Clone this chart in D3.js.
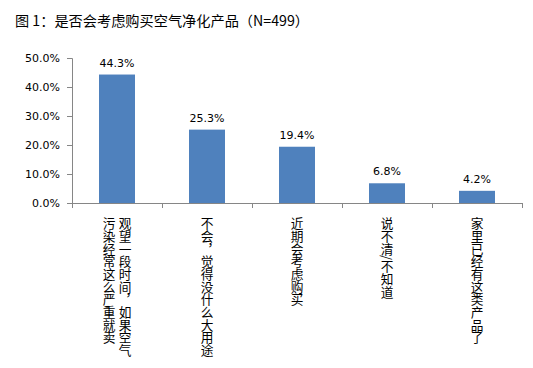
<!DOCTYPE html>
<html><head><meta charset="utf-8">
<script src="https://cdn.jsdelivr.net/npm/d3@7"></script>
<style>body{margin:0;background:#fff}</style>
</head><body>
<script>
const title = "图 1：是否会考虑购买空气净化产品（N=499）";
const categories = ["观望一段时间，如果空气污染经常这么严重就卖","不会，觉得没什么大用途","近期会考虑购买","说不清/不知道","家里已经有这类产品了"];
const values = [44.3, 25.3, 19.4, 6.8, 4.2];
const yTicks = [0, 10, 20, 30, 40, 50];

const W = 533, H = 368;
const svg = d3.select("body").append("svg").attr("width", W).attr("height", H)
  .style("font-family", "'Liberation Sans', 'DejaVu Sans', sans-serif");

const x0 = 72, x1 = 522, yTop = 58, yBot = 203;
const x = d3.scaleBand().domain(categories).range([x0, x1]).padding(0);
const y = d3.scaleLinear().domain([0, 50]).range([yBot, yTop]);

svg.append("text").attr("x", 15).attr("y", 26).attr("font-size", 14.2)
  .attr("font-family", "'Noto Sans CJK SC', sans-serif").attr("fill", "#000").text(title);

// y axis
const yAxis = d3.axisLeft(y).tickValues(yTicks).tickSize(5).tickFormat(d => d.toFixed(1) + "%");
const ya = svg.append("g").attr("transform", `translate(${x0},0)`).call(yAxis);
ya.select(".domain").attr("stroke", "#868686");
ya.selectAll(".tick line").attr("stroke", "#868686");
ya.selectAll(".tick text").attr("fill", "#000").attr("x", -12)
  .attr("font-family", "'DejaVu Sans', sans-serif").style("font-size", "11px");

// bars
const bw = x.bandwidth() * 0.4;
svg.selectAll("rect.bar").data(values).enter().append("rect")
  .attr("x", (d, i) => x(categories[i]) + (x.bandwidth() - bw) / 2)
  .attr("y", d => y(d)).attr("width", bw).attr("height", d => yBot - y(d))
  .attr("fill", "#4F81BD");

svg.selectAll("text.val").data(values).enter().append("text")
  .attr("x", (d, i) => x(categories[i]) + x.bandwidth() / 2)
  .attr("y", d => y(d) - 8).attr("text-anchor", "middle")
  .attr("font-family", "'DejaVu Sans', sans-serif").attr("font-size", 11).attr("fill", "#000")
  .text(d => d.toFixed(1) + "%");

// x axis
const xa = svg.append("g");
xa.append("line").attr("x1", x0).attr("x2", x1).attr("y1", yBot + 0.5).attr("y2", yBot + 0.5).attr("stroke", "#868686");
const bounds = categories.map(c => x(c)).concat([x1]);
xa.selectAll("line.tk").data(bounds).enter().append("line")
  .attr("x1", d => Math.round(d) + 0.5).attr("x2", d => Math.round(d) + 0.5)
  .attr("y1", yBot).attr("y2", yBot + 5).attr("stroke", "#868686");

// vertical category labels
const perCol = 11, colGap = 16, topY = 217;
categories.forEach((c, i) => {
  const chars = Array.from(c);
  const cols = [];
  for (let k = 0; k < chars.length; k += perCol) cols.push(chars.slice(k, k + perCol).join(""));
  const cx = x(c) + x.bandwidth() / 2;
  cols.forEach((col, j) => {
    const colX = cx + ((cols.length - 1) / 2 - j) * colGap;
    svg.append("text").attr("x", colX).attr("y", topY)
      .style("writing-mode", "vertical-rl")
      .attr("font-size", 12.7).attr("font-family", "'Noto Sans CJK SC', sans-serif")
      .attr("fill", "#000").text(col);
  });
});
</script>
</body></html>
